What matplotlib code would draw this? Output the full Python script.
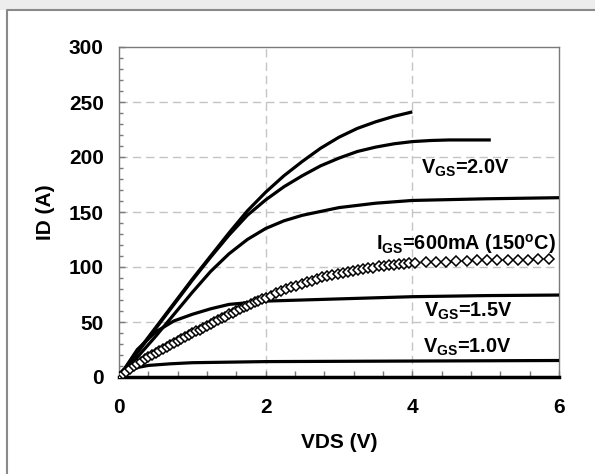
import matplotlib
matplotlib.use("Agg")
import matplotlib.pyplot as plt
from matplotlib.patches import Rectangle
from matplotlib.lines import Line2D
from matplotlib.ticker import MultipleLocator

plt.rcParams['font.family'] = ['Liberation Sans', 'DejaVu Sans']
plt.rcParams['font.weight'] = 'bold'
plt.rcParams['mathtext.fontset'] = 'custom'
plt.rcParams['mathtext.rm'] = 'Liberation Sans:bold'
plt.rcParams['mathtext.it'] = 'Liberation Sans:bold'
plt.rcParams['mathtext.bf'] = 'Liberation Sans:bold'

# drain current curves, VDS (V) vs ID (A)
vds_a = [0, 0.25, 0.5, 0.75, 1.0, 1.25, 1.5, 1.75, 2.0, 2.25, 2.5, 2.75, 3.0, 3.25, 3.5, 3.75, 4.0]
id_a = [0, 23, 45, 67, 89, 110, 131, 151, 168, 183, 196, 208, 218, 226, 232, 237, 241]

vds_b = [0, 0.25, 0.5, 0.75, 1.0, 1.25, 1.5, 1.75, 2.0, 2.25, 2.5, 2.75, 3.0, 3.25, 3.5, 3.75,
         4.0, 4.25, 4.5, 5.07]
id_b = [0, 22, 44, 66, 88, 109, 129, 147, 161, 173, 183, 192, 199, 205, 209, 212,
        214, 215, 215.5, 215.5]

vds_c = [0, 0.25, 0.5, 0.75, 1.0, 1.25, 1.5, 1.75, 2.0, 2.25, 2.5, 3.0, 3.5, 4.0, 5.0, 6.0]
id_c = [0, 18, 37, 57, 77, 96, 112, 125, 135, 142, 147, 154, 158, 160.5, 162, 163]

vds_d = [0, 0.25, 0.5, 0.75, 1.0, 1.25, 1.5, 2.0, 2.5, 3.0, 4.0, 5.0, 6.0]
id_d = [0, 25, 41, 51, 57, 62, 66, 69, 70, 71, 73, 74, 74.5]

vds_e = [0, 0.1, 0.2, 0.4, 0.7, 1.0, 1.5, 2.0, 4.0, 6.0]
id_e = [0, 5, 8, 10.5, 12, 13, 13.5, 14, 14.5, 15]

# IGS = 600 mA (150 C) measurement points
vds_f = [0, 0.05, 0.10, 0.15, 0.20, 0.25, 0.30, 0.35, 0.40, 0.45, 0.50, 0.55, 0.60, 0.65,
         0.70, 0.75, 0.80, 0.85, 0.90, 0.95, 1.00, 1.05, 1.10, 1.15, 1.20, 1.25, 1.30,
         1.35, 1.40, 1.45, 1.50, 1.55, 1.60, 1.65, 1.70, 1.75, 1.80, 1.85, 1.90, 1.95, 2.00,
         2.07, 2.14, 2.21, 2.28, 2.35, 2.42, 2.49, 2.56, 2.63, 2.70, 2.77, 2.84, 2.91, 2.98,
         3.05, 3.12, 3.19, 3.26, 3.33, 3.40, 3.47, 3.54, 3.61, 3.68, 3.75, 3.82, 3.89, 3.96,
         4.04, 4.18, 4.32, 4.46, 4.60, 4.74, 4.88, 5.02, 5.16, 5.30, 5.44, 5.58, 5.72, 5.86]
id_f = [0, 2.5, 5, 7.5, 10, 12, 14, 16, 18, 20, 22, 24, 25.5, 27.5,
        29, 31, 33, 34.5, 36.5, 38, 40, 41.5, 43, 45, 46.5, 48, 50,
        52, 53.5, 55, 57, 58.5, 60, 62, 63.5, 65, 66.5, 68, 69.5, 71, 72,
        74, 76, 78, 80, 81.5, 83, 85, 86, 87.5, 89, 90.5, 91.5, 92.5, 94,
        94.5, 95.5, 96.5, 97, 98, 99, 99.5, 100.5, 101, 101.5, 102, 102.5, 103, 103.5,
        103.8, 104.2, 104.6, 105, 105.2, 105.5, 106, 106, 106.2, 106.5, 106.5, 106.8, 107, 107]

labels = [r'V$_{\rm GS}$=2.0V', r'I$_{\rm GS}$=600mA (150$^{\rm o}$C)',
          r'V$_{\rm GS}$=1.5V', r'V$_{\rm GS}$=1.0V']
label_pos = [(4.12, 190), (3.5, 121), (4.16, 60), (4.14, 27)]

fig = plt.figure(figsize=(5.95, 4.74), dpi=100)
fig.patches.append(Rectangle((0, 1 - 10 / 474), 1, 10 / 474, transform=fig.transFigure,
                             facecolor='#ededed', edgecolor='none', zorder=0))
fig.lines.append(Line2D([7 / 595, 7 / 595, 1], [0, 1 - 10 / 474, 1 - 10 / 474],
                        transform=fig.transFigure, color='#8a8a8a', lw=1.5))

ax = fig.add_axes([119 / 595, 97 / 474, 440 / 595, 330 / 474])

lw = 2.3
for x, y in [(vds_a, id_a), (vds_b, id_b), (vds_c, id_c), (vds_d, id_d), (vds_e, id_e)]:
    ax.plot(x, y, color='black', lw=lw, solid_capstyle='butt', solid_joinstyle='round', zorder=3)
ax.plot(vds_f, id_f, ls='none', marker='D', ms=5.3, mfc='white', mec='black', mew=1.1, zorder=4)

for txt, (x, y) in zip(labels, label_pos):
    ax.text(x, y, txt, fontsize=14.3, fontweight='bold', va='center', ha='left', zorder=5)

ax.set_xlim(0, 6)
ax.set_ylim(0, 300)
ax.xaxis.set_major_locator(MultipleLocator(2))
ax.xaxis.set_minor_locator(MultipleLocator(0.4))
ax.yaxis.set_major_locator(MultipleLocator(50))
ax.yaxis.set_minor_locator(MultipleLocator(10))

for v in [2, 4]:
    ax.axvline(v, color='#c4c4c4', lw=1, dashes=(6, 3.6), zorder=1)
for v in [50, 100, 150, 200, 250]:
    ax.axhline(v, color='#c4c4c4', lw=1, dashes=(6, 3.6), zorder=1)

for s in ['top', 'left', 'right']:
    ax.spines[s].set_color('#7a7a7a')
    ax.spines[s].set_linewidth(1.0)
ax.spines['bottom'].set_color('black')
ax.spines['bottom'].set_linewidth(2.5)

ax.tick_params(axis='both', which='both', direction='in', color='#7a7a7a', top=False, right=False)
ax.tick_params(axis='y', which='major', length=4, width=1, labelsize=15, pad=11)
ax.tick_params(axis='y', which='minor', length=3, width=1)
ax.tick_params(axis='x', which='major', length=4, width=1, labelsize=15, pad=15)
ax.tick_params(axis='x', which='minor', length=4, width=1)
for lab in ax.get_xticklabels() + ax.get_yticklabels():
    lab.set_fontweight('bold')

ax.set_xlabel('VDS (V)', fontsize=15, fontweight='bold', labelpad=12)
ax.set_ylabel('ID (A)', fontsize=15, fontweight='bold', labelpad=10)

fig.savefig('out.png', dpi=100)
